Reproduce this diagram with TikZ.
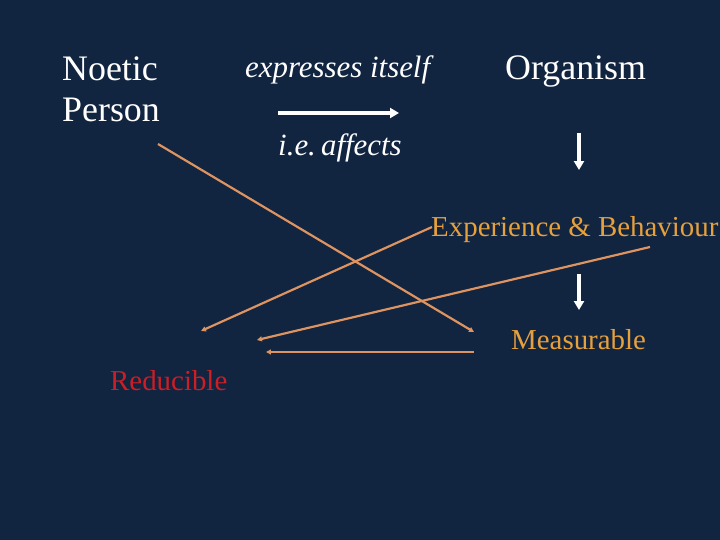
\documentclass[tikz,border=0pt]{standalone}
\usepackage{fontspec}
\setmainfont{Liberation Serif}
\usetikzlibrary{arrows.meta,positioning}
\definecolor{nightblue}{HTML}{112440}
\definecolor{ambertext}{HTML}{E6A03C}
\definecolor{salmonline}{HTML}{DE9460}
\definecolor{reducered}{HTML}{CC1E24}

\begin{document}
\begin{tikzpicture}[
  x=1bp, y=-1bp,
  label/.style={anchor=base west, inner sep=0pt, text=white, font=\fontsize{36}{42}\selectfont, align=left},
  verb/.style={anchor=base west, inner sep=0pt, text=white, font=\fontsize{31}{36}\selectfont\itshape},
  level/.style={anchor=base west, inner sep=0pt, text=ambertext, font=\fontsize{29}{34}\selectfont},
  flow/.style={white, line width=3.6pt, -{Triangle[length=9pt,width=10pt]}},
  cross/.style={salmonline, line width=2.2pt, -{Triangle[length=5pt,width=5pt]}}
]
\fill[nightblue] (0,0) rectangle (720,540);
\useasboundingbox (0,0) rectangle (720,540);

\node[label] (noetic) at (62,122) {Noetic\\Person};
\node[verb] (expr) at (245,78) {expresses itself};
\node[verb] (affects) at (278,156) {i.e.\,affects};
\node[label] (organism) at (505,80) {Organism};
\node[level] (experience) at (431,237) {Experience \& Behaviour};
\node[level] (measurable) at (511,349) {Measurable};
\node[level, text=reducered] (reducible) at (110,390) {Reducible};

% white arrows
\coordinate (a1) at (278,113);
\coordinate (a2) at (399,113);
\draw[flow] (a1) -- (a2);
\coordinate (o1) at (579,133);
\coordinate (o2) at (579,170);
\draw[flow] (o1) -- (o2);
\coordinate (e1) at (579,274);
\coordinate (e2) at (579,310);
\draw[flow] (e1) -- (e2);

% crossing lines
\coordinate (p1) at (158,144);
\coordinate (m1) at (474,332);
\draw[cross] (p1) -- (m1);
\coordinate (x1) at (432,227);
\coordinate (r1) at (201,331);
\draw[cross] (x1) -- (r1);
\coordinate (x2) at (650,247);
\coordinate (r2) at (257,340);
\draw[cross] (x2) -- (r2);
\coordinate (m2) at (474,352);
\coordinate (r3) at (266,352);
\draw[cross] (m2) -- (r3);

\end{tikzpicture}
\end{document}
